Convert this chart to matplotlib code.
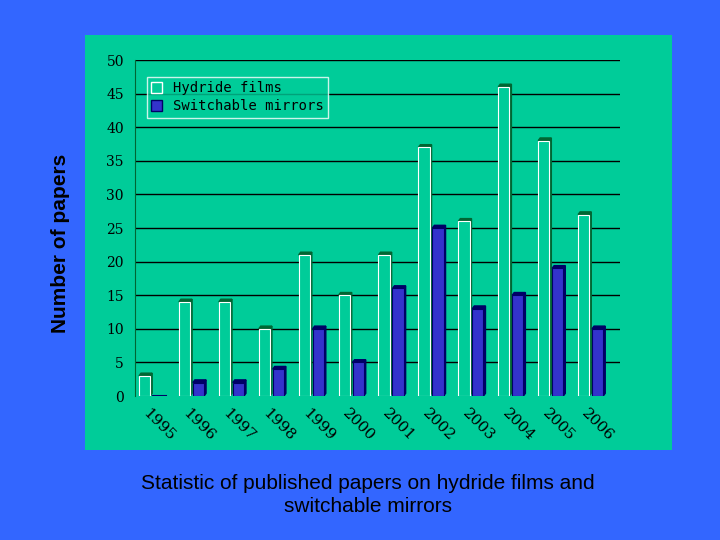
import matplotlib
matplotlib.use("Agg")
import matplotlib.pyplot as plt
from matplotlib.patches import Rectangle, Polygon
import numpy as np

years = ["1995","1996","1997","1998","1999","2000","2001","2002","2003","2004","2005","2006"]
hydride = [3,14,14,10,21,15,21,37,26,46,38,27]
mirrors = [0,2,2,4,10,5,16,25,13,15,19,10]

fig = plt.figure(figsize=(7.2,5.4), dpi=100)
fig.patch.set_facecolor("#3366FF")
bg = fig.add_axes([85/720, 90/540, 587/720, 415/540], zorder=-1)
bg.set_facecolor("#00CC99")
bg.set_xticks([]); bg.set_yticks([])
for s in bg.spines.values():
    s.set_visible(False)

ax = fig.add_axes([135/720, 144/540, 485/720, 336/540], zorder=1)
ax.set_facecolor("none")
ax.set_ylim(0, 50)
ax.set_xlim(-0.15, 12)
ax.set_yticks(range(0, 51, 5))
for y in range(5, 51, 5):
    ax.axhline(y, color="black", lw=1, zorder=1)
for s in ["top","right","bottom"]:
    ax.spines[s].set_visible(False)
ax.spines["left"].set_color("#006633")
ax.tick_params(axis="y", length=0, labelsize=10, colors="black", pad=8)
for t in ax.get_yticklabels():
    t.set_family("DejaVu Serif")
ax.set_xticks([])

w = 0.28
dx, dy = 0.05, 0.4
def bar3d(x0, h, face, side, edge):
    if h <= 0:
        ax.plot([x0, x0+w+dx], [0, 0], color=side, lw=1.5, zorder=3)
        return
    ax.add_patch(Polygon([(x0+w,0),(x0+w+dx,dy),(x0+w+dx,h+dy),(x0+w,h)], closed=True,
                         facecolor=side, edgecolor=side, zorder=3))
    ax.add_patch(Polygon([(x0,h),(x0+dx,h+dy),(x0+w+dx,h+dy),(x0+w,h)], closed=True,
                         facecolor=side, edgecolor=side, zorder=3))
    ax.add_patch(Rectangle((x0,0), w, h, facecolor=face, edgecolor=edge, lw=0.8, zorder=4))

for i, (hv, mv) in enumerate(zip(hydride, mirrors)):
    bar3d(i - 0.05, hv, "#00CC99", "#006633", "white")
    bar3d(i + 0.3, mv, "#3333CC", "#000066", "#000066")
    ax.text(i + 0.45, -1.5, years[i], rotation=-45, ha="center", va="top",
            fontsize=11, family="DejaVu Serif", color="black", clip_on=False)

h1 = Rectangle((0,0),1,1, facecolor="#00CC99", edgecolor="white")
h2 = Rectangle((0,0),1,1, facecolor="#3333CC", edgecolor="#000066")
leg = ax.legend([h1, h2], ["Hydride films", "Switchable mirrors"], loc="upper left",
                bbox_to_anchor=(0.01, 0.97), prop={"family": "DejaVu Sans Mono", "size": 10},
                frameon=True, fancybox=False, handlelength=0.8, handleheight=0.8,
                borderpad=0.3, labelspacing=0.3)
leg.get_frame().set_facecolor("#00CC99")
leg.get_frame().set_edgecolor("white")

fig.text(60/720, 1 - 243/540, "Number of papers", rotation=90, ha="center", va="center",
         fontsize=15, fontweight="bold", color="black", family="Liberation Sans")
fig.text(368/720, 1 - 495/540, "Statistic of published papers on hydride films and\nswitchable mirrors",
         ha="center", va="center", fontsize=15, color="black", family="Liberation Sans",
         linespacing=1.3)
fig.savefig("out.png", dpi=100, facecolor=fig.get_facecolor())
